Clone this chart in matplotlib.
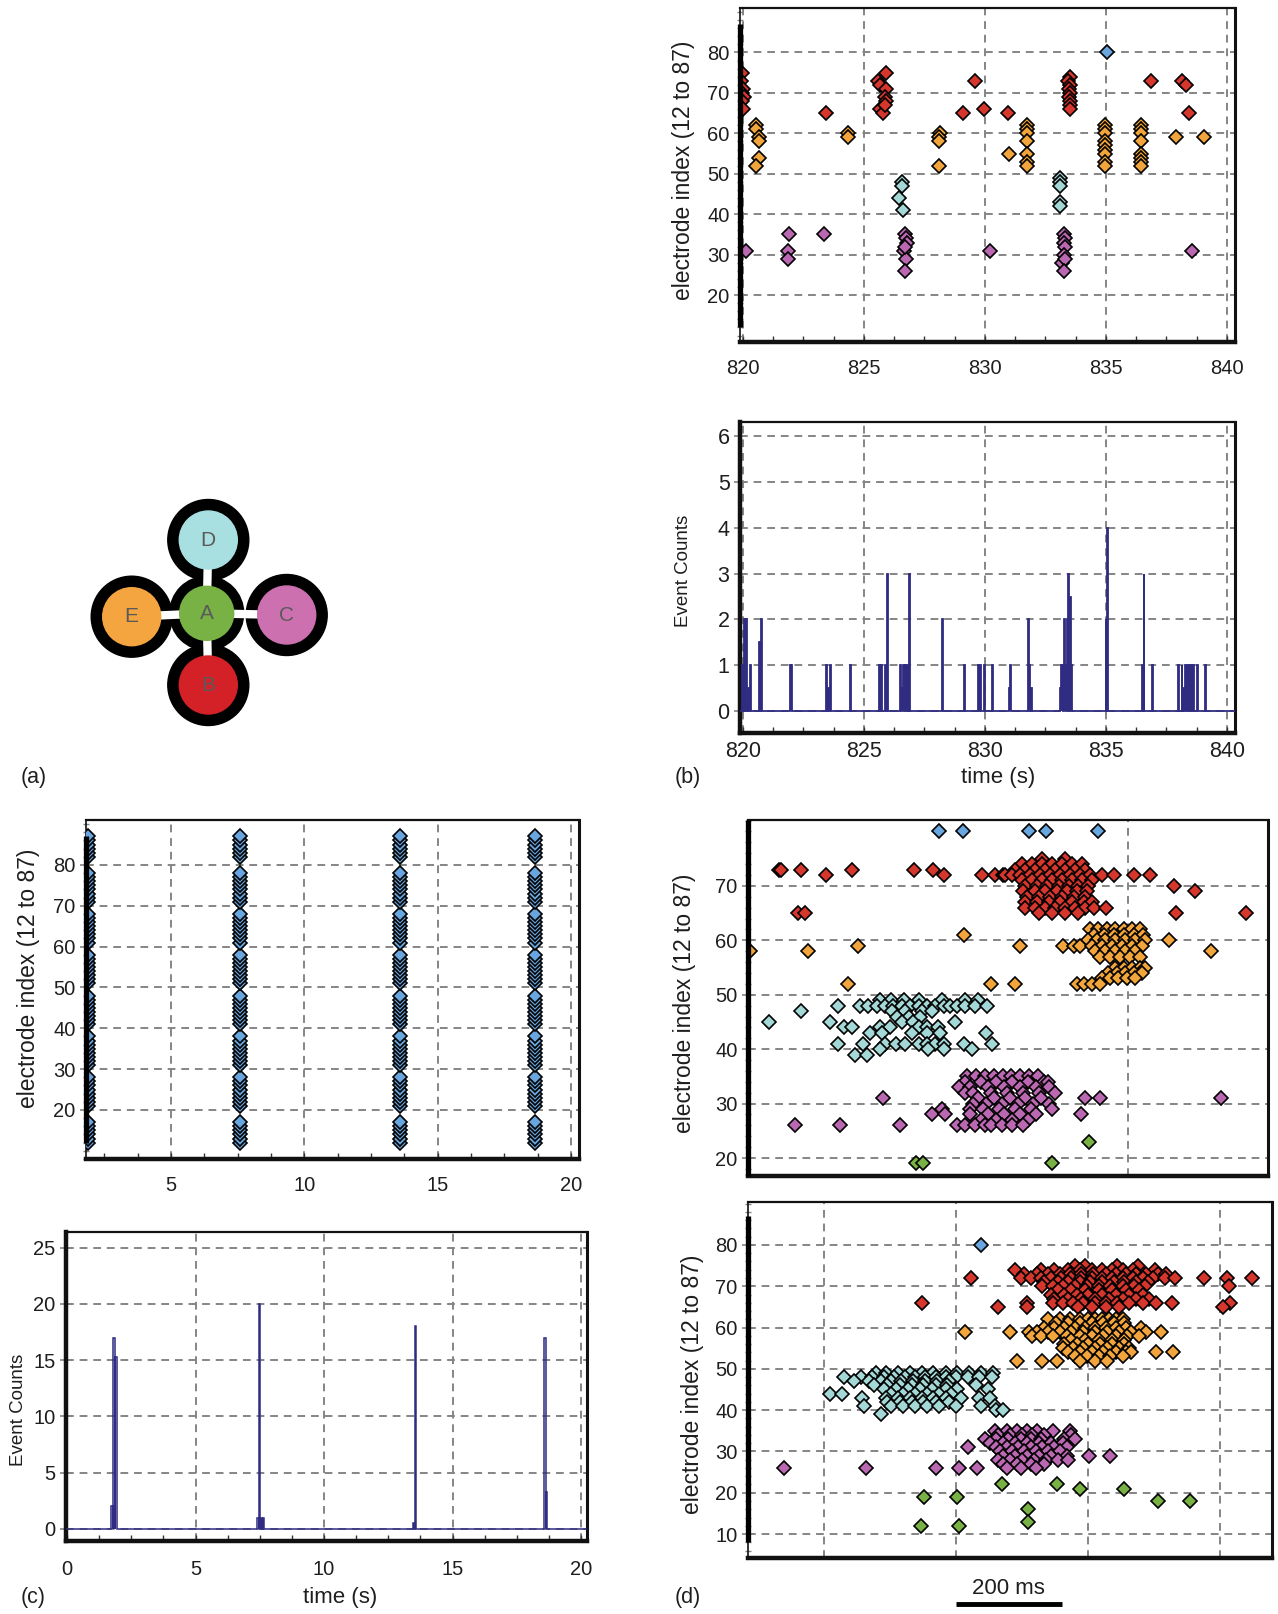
import matplotlib
matplotlib.use("Agg")
import matplotlib.pyplot as plt
import matplotlib.transforms as mtransforms
from matplotlib.patches import Circle
from matplotlib.ticker import MultipleLocator

W, H = 1278, 1614
plt.rcParams["font.family"] = ["Liberation Sans", "DejaVu Sans"]

RED = "#d5372d"
ORANGE = "#f2a53c"
CYAN = "#a3d8d6"
PURPLE = "#bb68b2"
GREEN = "#78b244"
BLUE = "#69a6df"
NAVY = "#2f2c82"
GRID = "#858585"
TXT = "#1e1e1e"

# ---- (b) 20 s window, raster of detected events ----
b_red_t = [819.97, 819.94, 820.02, 819.96, 820.03, 819.95, 820.0, 823.43,
           825.58, 825.93, 825.65, 825.93, 825.86, 825.93, 825.65, 825.8, 825.86,
           829.1, 829.6, 829.95, 830.97,
           833.5, 833.42, 833.5, 833.48, 833.5, 833.48, 833.5, 833.5, 833.5,
           836.85, 838.15, 838.32, 838.45]
b_red_e = [75, 73, 71, 70, 69, 68, 66, 65,
           73, 75, 72, 71, 69, 68, 66, 65, 67,
           65, 73, 66, 65,
           74, 73, 72, 71, 70, 69, 68, 67, 66,
           73, 73, 72, 65]
b_orange_t = [820.56, 820.56, 820.65, 820.65, 820.65, 820.56,
              824.33, 824.33,
              828.15, 828.12, 828.12, 828.12,
              831.0,
              831.74, 831.74, 831.74, 831.74, 831.74, 831.74, 831.74,
              834.95, 834.95, 834.95, 834.95, 834.95, 834.95, 834.95, 834.95, 834.95,
              836.45, 836.45, 836.45, 836.45, 836.45, 836.45, 836.45, 836.45,
              837.9, 839.05]
b_orange_e = [62, 61, 59, 58, 54, 52,
              60, 59,
              60, 59, 58, 52,
              55,
              62, 61, 60, 58, 55, 53, 52,
              62, 61, 60, 58, 57, 56, 55, 53, 52,
              62, 61, 60, 58, 55, 54, 53, 52,
              59, 59]
b_cyan_t = [826.58, 826.58, 826.45, 826.6, 833.1, 833.1, 833.1, 833.12, 833.08]
b_cyan_e = [48, 47, 44, 41, 49, 48, 47, 43, 42]
b_purple_t = [820.12, 821.9, 821.85, 821.85, 823.36,
              826.7, 826.72, 826.78, 826.65, 826.75, 826.7, 826.68,
              830.2,
              833.28, 833.32, 833.28, 833.3, 833.25, 833.2, 833.32, 833.28,
              838.55]
b_purple_e = [31, 35, 31, 29, 35,
              35, 34, 33, 31, 29, 26, 32,
              31,
              35, 34, 33, 32, 30, 28, 29, 26,
              31]
b_blue_t = [835.03]
b_blue_e = [80]

# ---- (b) event counts ----
b_hist_t = [819.98, 820.06, 820.12, 820.2, 820.3, 820.68, 820.76, 821.95, 822.0,
            823.43, 823.5, 823.58, 824.42, 825.62, 825.7, 825.88, 825.97,
            826.5, 826.56, 826.62, 826.68, 826.74, 826.8, 826.87, 828.22, 829.12,
            829.72, 829.8, 829.97, 830.28, 830.98, 831.04, 831.76, 831.82, 831.9,
            833.1, 833.15, 833.2, 833.26, 833.32, 833.38, 833.44, 833.5, 833.56,
            834.98, 835.03, 836.48, 836.55, 836.92, 837.96, 838.12, 838.2, 838.28,
            838.36, 838.44, 838.52, 838.6, 838.75, 839.1]
b_hist_h = [1, 2, 2, 0.5, 1, 1.5, 2, 1, 1,
            1, 0.5, 1, 1, 1, 1, 1, 3,
            1, 0.5, 1, 1, 1, 1, 3, 2, 1,
            1, 1, 1, 1, 0.5, 1, 2, 1, 0.5,
            0.5, 1, 1, 2, 1, 2, 3, 2.5, 1,
            2, 4, 1, 3, 1, 1, 1, 0.5, 1,
            1, 1, 1, 1, 1, 1]

# ---- (c) culture-wide bursts ----
electrodes = [12, 13, 14, 15, 16, 17,
              21, 22, 23, 24, 25, 26, 27, 28,
              31, 32, 33, 34, 35, 36, 37, 38,
              41, 42, 43, 44, 45, 46, 47, 48,
              51, 52, 53, 54, 55, 56, 57, 58,
              61, 62, 63, 64, 65, 66, 67, 68,
              71, 72, 73, 74, 75, 76, 77, 78,
              82, 83, 84, 85, 86, 87]
burst_times = [1.9, 7.6, 13.6, 18.65]
c_hist_t = [1.72, 1.8, 1.88, 7.4, 7.47, 7.54, 7.61, 13.45, 13.53, 18.57, 18.64]
c_hist_h = [2, 17, 15.3, 1, 20, 1, 1, 0.5, 18, 17, 3.3]

# ---- (d) two bursts, times in ms, rows keyed by electrode ----
dt_blue_t = [642, 686, 811, 844, 943]
dt_blue_e = [80, 80, 80, 80, 80]
dt_red = {
    75: [836, 880],
    74: [798, 817, 836, 855, 874, 893, 912],
    73: [338, 343, 380, 476, 594, 630, 786, 805, 823, 842, 861, 880, 899, 918],
    72: [428, 650, 722, 748, 762, 767, 779, 795, 814, 833, 852, 871, 890, 909,
         928, 950, 972, 1010, 1041],
    71: [798, 817, 836, 855, 874, 893, 912, 931],
    70: [805, 827, 845, 868, 887, 905, 924, 1087],
    69: [801, 823, 842, 864, 883, 902, 921, 1126],
    68: [808, 830, 852, 874, 896, 918],
    67: [805, 827, 849, 871, 893, 915, 931],
    66: [805, 823, 842, 861, 880, 899, 918, 934, 957],
    65: [375, 388, 830, 855, 880, 905, 1090, 1222],
}
dt_orange = {
    62: [928, 943, 959, 975, 991, 1006, 1022],
    61: [689, 934, 953, 972, 991, 1010, 1028],
    60: [924, 940, 956, 975, 994, 1013, 1032, 1076],
    59: [488, 795, 877, 896, 909, 931, 950, 969, 987, 1006, 1025],
    58: [284, 394, 937, 956, 975, 994, 1013, 1157],
    57: [946, 965, 984, 1003, 1022],
    55: [975, 991, 1006, 1022, 1032],
    54: [962, 978, 994, 1010, 1025],
    53: [950, 965, 981, 997, 1013],
    52: [469, 740, 786, 902, 915, 931, 946],
}
dt_cyan = {
    49: [530, 551, 576, 603, 647, 691, 716],
    48: [451, 492, 508, 524, 539, 555, 571, 587, 603, 618, 634, 650, 662, 675,
         691, 710, 732],
    47: [380, 552, 577, 609, 628],
    46: [562, 584, 606],
    45: [319, 435, 571, 593, 671],
    44: [461, 476, 530, 549, 603, 618, 640],
    43: [511, 533, 590, 618, 644, 730],
    41: [451, 498, 539, 561, 577, 603, 618, 634, 650, 688, 741],
    40: [530, 621, 650, 703],
    39: [483, 505],
}
dt_purple = {
    35: [695, 712, 728, 745, 762, 778, 795, 812, 828],
    34: [690, 720, 750, 780, 810, 840, 847],
    33: [680, 700, 735, 765, 795, 825, 850],
    32: [690, 705, 740, 770, 800, 830, 861],
    31: [535, 715, 745, 775, 805, 835, 917, 946, 1175],
    30: [705, 730, 760, 790, 820, 850],
    29: [647, 700, 725, 755, 785, 815, 855],
    28: [628, 653, 700, 735, 765, 795, 825, 911],
    27: [720, 750, 780, 810],
    26: [369, 454, 568, 675, 691, 710, 729, 740, 760, 780, 800],
}
dt_green_t = [597, 612, 855, 926]
dt_green_e = [19, 19, 19, 23]

db_blue_t = [297]
db_blue_e = [80]
db_red = {
    75: [475, 494, 555, 594],
    74: [362, 410, 436, 462, 484, 507, 526, 545, 565, 584, 626],
    73: [378, 404, 423, 446, 465, 487, 510, 533, 552, 571, 591, 610, 632, 648],
    72: [278, 372, 391, 410, 430, 449, 468, 487, 507, 526, 545, 565, 584, 603,
         623, 645, 665, 719, 763, 811],
    71: [417, 442, 462, 484, 504, 526, 549, 568, 591, 613],
    70: [413, 433, 452, 475, 497, 520, 542, 565, 587, 607, 767],
    69: [442, 468, 494, 520, 545, 571, 597],
    68: [430, 455, 478, 500, 526, 552, 578, 603],
    67: [436, 462, 487, 513, 539, 565, 591, 616],
    66: [186, 384, 433, 452, 471, 491, 513, 533, 555, 578, 603, 629, 658, 769],
    65: [330, 384, 481, 507, 533, 558, 755],
}
db_orange = {
    62: [423, 446, 465, 484, 500, 513, 526, 539, 552, 565],
    61: [439, 462, 484, 507, 529, 549, 568],
    60: [417, 436, 455, 475, 494, 513, 533, 552, 571, 600],
    59: [267, 352, 388, 404, 423, 446, 468, 491, 513, 536, 558, 581, 610, 637],
    58: [394, 410, 433, 459, 484, 507, 529, 552, 574, 597],
    57: [468, 494, 520, 545, 568],
    56: [455, 478, 500, 523, 545, 568],
    55: [452, 471, 491, 513, 536, 558, 578],
    54: [462, 484, 507, 529, 552, 571, 581, 629, 660],
    53: [475, 497, 520, 542, 565],
    52: [365, 413, 441, 484, 513, 536],
}
db_cyan = {
    49: [98, 117, 140, 162, 185, 207, 230, 252, 275, 298, 320],
    48: [37, 69, 91, 114, 133, 153, 172, 191, 211, 230, 249, 272, 294, 317],
    47: [56, 85, 108, 127, 146, 169, 191, 214, 236],
    46: [95, 120, 143, 166, 188, 211, 233, 288],
    45: [114, 137, 159, 182, 204, 230, 252, 310],
    44: [11, 34, 127, 149, 172, 194, 217, 240],
    43: [72, 117, 140, 162, 185, 207, 230, 259, 294, 314],
    42: [120, 143, 166, 188, 211, 236],
    41: [75, 127, 149, 172, 194, 217, 249, 298, 323],
    40: [326, 339],
    39: [108],
}
db_purple = {
    35: [323, 346, 365, 384, 404, 433, 465],
    34: [330, 352, 375, 394, 417, 468],
    33: [304, 326, 349, 372, 391, 410, 455, 475],
    32: [314, 339, 362, 384, 407, 430, 452],
    31: [272, 326, 346, 368, 391, 413, 436, 459],
    30: [333, 355, 378, 401, 423, 446],
    29: [339, 362, 384, 407, 430, 459, 502, 542],
    28: [330, 352, 375, 397, 420, 442, 462],
    27: [339, 365, 391, 417],
    26: [-76, 79, 212, 256, 290, 346, 372, 401],
}
db_green_t = [337, 441, 484, 568, 632, 692, 190, 252, 386, 386, 183, 256]
db_green_e = [22, 22, 21, 21, 18, 18, 19, 19, 16, 13, 12, 12]

# ---- (a) network of five sub-cultures ----
node_names = ["A", "B", "C", "D", "E"]
node_x = [206.7, 208.3, 286.7, 208.3, 131.7]
node_y = [613.3, 685.0, 615.0, 540.0, 616.7]
node_colors = [GREEN, "#d42027", "#cc70b0", "#a8dfe0", "#f5a540"]


def box(left, top, right, bottom):
    return [left / W, 1 - bottom / H, (right - left) / W, (bottom - top) / H]


def flatten(rows):
    t, e = [], []
    for k, v in rows.items():
        t += v
        e += [k] * len(v)
    return t, e


def diamonds(ax, t, e, color, ms=7.5):
    ax.plot(t, e, ls="none", marker="D", ms=ms, mfc=color, mec="black",
            mew=1.2, zorder=3)


def frame(ax, xlim, ylim, xgrid, ygrid, xminor=None, yminor=None,
          xlabels=True, thick_left=False, bar=None, tsize=14.5, xpad=7):
    ax.set_xlim(*xlim)
    ax.set_ylim(*ylim)
    ax.set_xticks(xgrid)
    ax.set_yticks(ygrid)
    if xminor:
        ax.xaxis.set_minor_locator(MultipleLocator(xminor))
    if yminor:
        ax.yaxis.set_minor_locator(MultipleLocator(yminor))
    ax.grid(True, which="major", color=GRID, ls=(0, (4, 3)), lw=1.4)
    ax.set_axisbelow(True)
    ax.tick_params(axis="y", which="major", direction="inout", length=9,
                   color=GRID, width=1.2, labelsize=tsize, labelcolor=TXT, pad=3)
    ax.tick_params(axis="y", which="minor", direction="inout", length=4,
                   color=GRID, width=1)
    ax.tick_params(axis="x", which="both", direction="in", length=4,
                   color="#333333", width=1, labelsize=tsize, labelcolor=TXT,
                   pad=xpad, labelbottom=xlabels, top=False)
    ax.spines["top"].set_linewidth(1.6)
    ax.spines["right"].set_linewidth(2.2)
    ax.spines["bottom"].set_linewidth(3.2)
    ax.spines["left"].set_linewidth(3.2 if thick_left else 1.2)
    for s in ax.spines.values():
        s.set_color("#111111")
    if bar is not None:
        lo = max(bar[0], ylim[0])
        hi = min(bar[1], ylim[1])
        ax.plot([xlim[0], xlim[0]], [lo, hi], color="black", lw=3.8,
                solid_capstyle="butt", clip_on=False, zorder=4)


def counts(ax, t, h, width, xlim, lw=1.3):
    edges = [xlim[0] - 1]
    vals = []
    for ti, hi in zip(t, h):
        edges += [ti, ti + width]
        vals += [0, hi]
    edges.append(xlim[1] + 1)
    vals.append(0)
    ax.stairs(vals, edges, color=NAVY, lw=lw, baseline=None, zorder=3)


fig = plt.figure(figsize=(W / 100, H / 100), dpi=100)


def label(x, y, s, size, rot=0, ha="center"):
    fig.text(x / W, 1 - y / H, s, fontsize=size, rotation=rot, ha=ha,
             va="center", color=TXT)


# (a) diagram
ax_a = fig.add_axes(box(60, 470, 360, 740))
ax_a.set_xlim(60, 360)
ax_a.set_ylim(740, 470)
ax_a.axis("off")
for i, (x, y) in enumerate(zip(node_x, node_y)):
    ax_a.add_patch(Circle((x, y), 37 if i == 0 else 40.5, color="black", zorder=1))
for x, y in zip(node_x[1:], node_y[1:]):
    ax_a.plot([node_x[0], x], [node_y[0], y], color="white", lw=6,
              solid_capstyle="butt", zorder=2)
for i, (x, y, c, n) in enumerate(zip(node_x, node_y, node_colors, node_names)):
    ax_a.add_patch(Circle((x, y), 27 if i == 0 else 29, color=c, zorder=3))
    ax_a.text(x, y, n, ha="center", va="center", fontsize=15, color="#5a5a5a",
              zorder=4)

# (b) raster
b_xlim = (819.88, 840.33)
ax = fig.add_axes(box(740, 8, 1235, 342))
frame(ax, b_xlim, (8.4, 91.0), [820, 825, 830, 835, 840],
      [20, 30, 40, 50, 60, 70, 80], xminor=1.25, yminor=2, bar=(12, 87),
      xpad=12)
diamonds(ax, b_red_t, b_red_e, RED)
diamonds(ax, b_orange_t, b_orange_e, ORANGE)
diamonds(ax, b_cyan_t, b_cyan_e, CYAN)
diamonds(ax, b_purple_t, b_purple_e, PURPLE)
diamonds(ax, b_blue_t, b_blue_e, BLUE)
label(684, 170, "electrode index (12 to 87)", 16.5, rot=90)

# (b) counts
ax = fig.add_axes(box(740, 422, 1235, 733))
frame(ax, b_xlim, (-0.48, 6.31), [820, 825, 830, 835, 840],
      [0, 1, 2, 3, 4, 5, 6], xminor=1.25, thick_left=True, tsize=15.5, xpad=6)
counts(ax, b_hist_t, b_hist_h, 0.04, b_xlim)
label(684, 571, "Event Counts", 13.5, rot=90)
label(998, 777, "time (s)", 16)

# (c) raster
c_xlim = (1.81, 20.3)
ax = fig.add_axes(box(86, 820, 579, 1159))
frame(ax, c_xlim, (8.0, 91.0), [5, 10, 15, 20],
      [20, 30, 40, 50, 60, 70, 80], xminor=1.25, yminor=2, bar=(12, 87),
      xpad=12)
for bt in burst_times:
    diamonds(ax, [bt] * len(electrodes), electrodes, BLUE)
label(29, 978, "electrode index (12 to 87)", 16.5, rot=90)

# (c) counts
c2_xlim = (-0.04, 20.23)
ax = fig.add_axes(box(66, 1232, 587, 1541))
frame(ax, c2_xlim, (-1.07, 26.4), [0, 5, 10, 15, 20],
      [0, 5, 10, 15, 20, 25], xminor=1.25, thick_left=True, xpad=14)
counts(ax, c_hist_t, c_hist_h, 0.05, c2_xlim, lw=1.1)
label(19, 1410, "Event Counts", 13.5, rot=90)
label(340, 1597, "time (s)", 16)

# (d) upper burst
ax = fig.add_axes(box(748, 820, 1268, 1176))
frame(ax, (280, 1264), (16.7, 82.1), [1000], [20, 30, 40, 50, 60, 70],
      yminor=2, xlabels=False, bar=(12, 87))
ax.tick_params(axis="x", length=0)
diamonds(ax, dt_blue_t, dt_blue_e, BLUE)
diamonds(ax, *flatten(dt_red), RED)
diamonds(ax, *flatten(dt_orange), ORANGE)
diamonds(ax, *flatten(dt_cyan), CYAN)
diamonds(ax, *flatten(dt_purple), PURPLE)
diamonds(ax, dt_green_t, dt_green_e, GREEN)
label(685, 1003, "electrode index (12 to 87)", 16.5, rot=90)

# (d) lower burst
ax = fig.add_axes(box(748, 1202, 1272, 1558))
frame(ax, (-144, 848), (4.2, 90.4), [0, 250, 500, 750],
      [10, 20, 30, 40, 50, 60, 70, 80], yminor=2, xlabels=False, bar=(8, 87))
ax.tick_params(axis="x", length=0)
diamonds(ax, db_blue_t, db_blue_e, BLUE)
diamonds(ax, *flatten(db_red), RED)
diamonds(ax, *flatten(db_orange), ORANGE)
diamonds(ax, *flatten(db_cyan), CYAN)
diamonds(ax, *flatten(db_purple), PURPLE)
diamonds(ax, db_green_t, db_green_e, GREEN)
label(692, 1384, "electrode index (12 to 87)", 16.5, rot=90)

# 200 ms scale bar under the lower burst
trans = mtransforms.blended_transform_factory(ax.transData, fig.transFigure)
ax.plot([250, 450], [1 - 1604 / H] * 2, transform=trans, color="black", lw=3.5,
        solid_capstyle="butt", clip_on=False)
label(1008, 1589, "200 ms", 16)

# panel letters
label(21, 777, "(a)", 15.5, ha="left")
label(675, 777, "(b)", 15.5, ha="left")
label(21, 1597, "(c)", 15.5, ha="left")
label(675, 1597, "(d)", 15.5, ha="left")

fig.savefig("out.png", dpi=100)
